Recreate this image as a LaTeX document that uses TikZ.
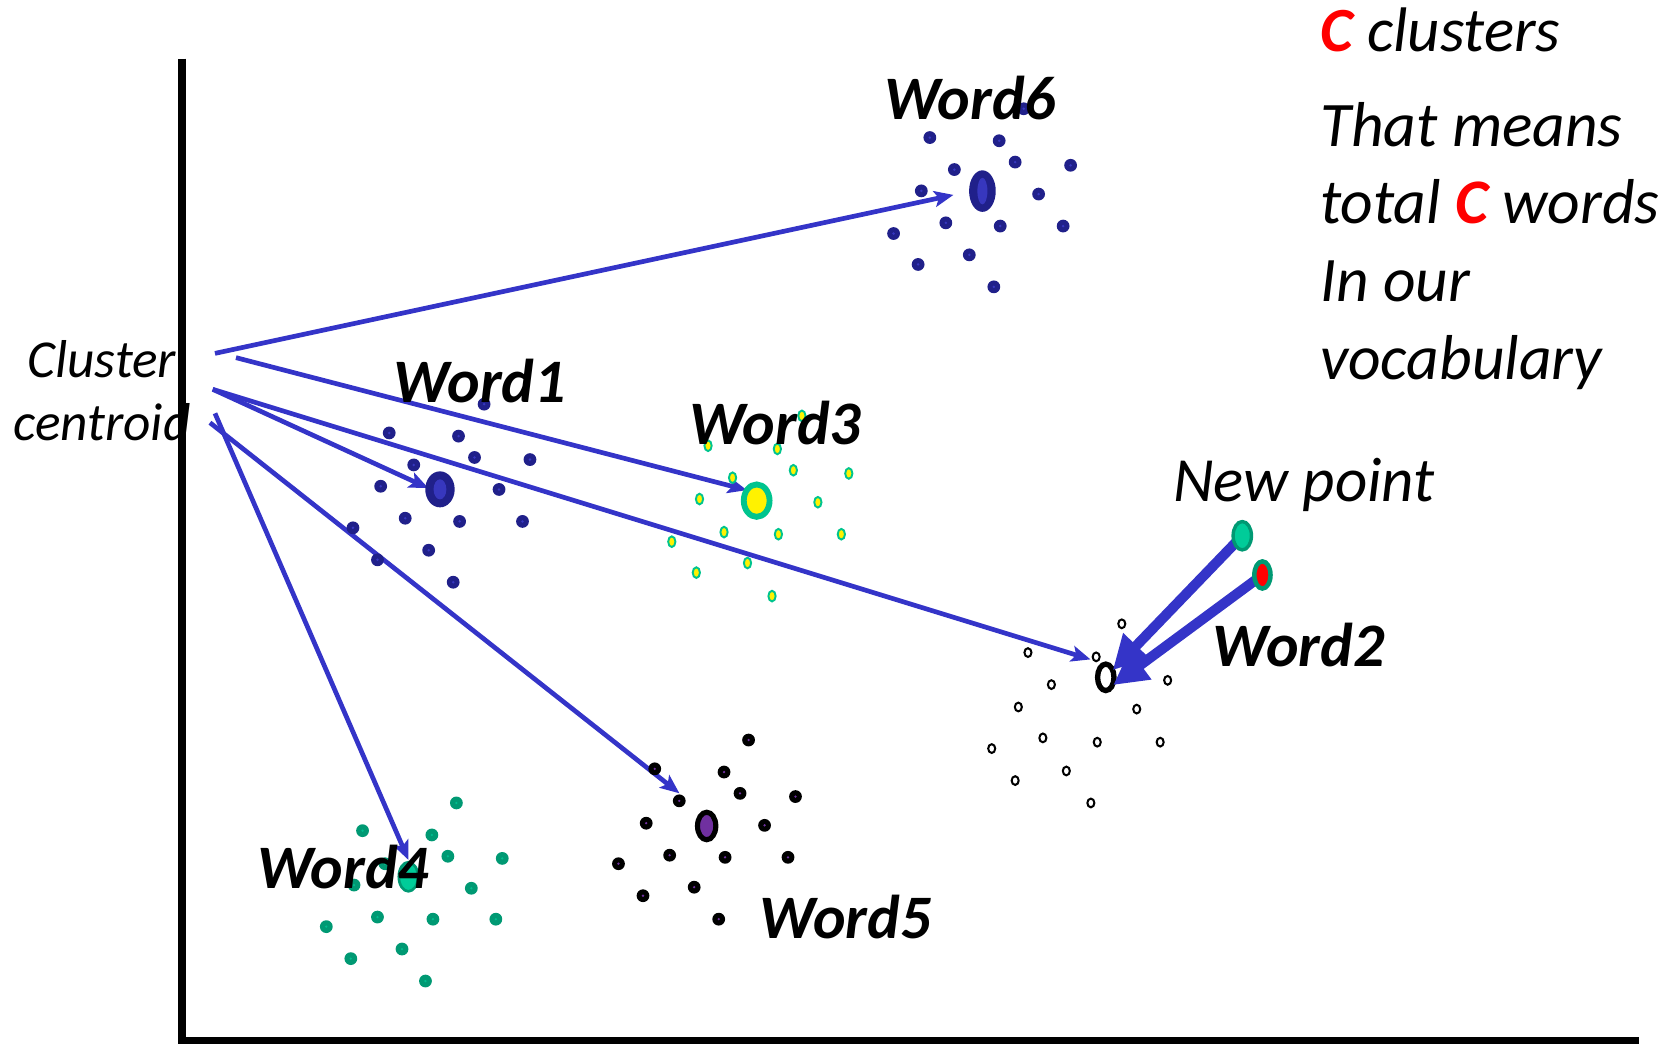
\documentclass[tikz,border=0pt]{standalone}
\usepackage{fontspec}
\setmainfont{Carlito}
\usetikzlibrary{arrows.meta, shapes.geometric, backgrounds}
\definecolor{ArrowBlue}{HTML}{3434C8}
\definecolor{NavyDot}{HTML}{20208A}
\definecolor{NavyLight}{HTML}{3737BE}
\definecolor{SeaGreen}{HTML}{009973}
\definecolor{MintGreen}{HTML}{00CC99}
\definecolor{TealRing}{HTML}{00C48E}
\definecolor{PlumPurple}{HTML}{7030A0}
\definecolor{BrightRed}{HTML}{FF0000}

\tikzset{
  centroid/.style={ellipse, inner sep=0pt, outer sep=0pt},
  wordlabel/.style={anchor=base west, inner sep=0pt, font=\fontsize{58}{68}\selectfont\bfseries\itshape},
  link/.style={line width=4.4pt, color=ArrowBlue, -{Stealth[length=18pt, width=15pt, inset=4pt]}},
  bigarrow/.style={line width=9.5pt, color=ArrowBlue, -{Triangle[length=32pt, width=32pt]}},
}

\begin{document}
\begin{tikzpicture}[x=1pt, y=-1pt]
\useasboundingbox (0,0) rectangle (1568,979);

% start points of the links
\coordinate (s6) at (201.6,331.4);
\coordinate (s3) at (221.3,335.4);
\coordinate (s1) at (199.5,365.1);
\coordinate (s4) at (201.6,387.6);
\coordinate (s5) at (196.9,396.4);

% Word6 cluster
\foreach \x/\y in {872/129, 937/132, 952/152, 1004/155, 895/159, 864/179, 974/182, 887/209, 938/212, 997/212, 838/219, 909/239, 861/248, 932/269, 960/102}{
  \fill[NavyDot] (\x,\y) circle (6pt);
  \fill[NavyLight] (\x,\y) circle (1.3pt);
}
\node[centroid, fill=NavyDot, minimum width=25pt, minimum height=39pt] (w6) at (921.3,179.2) {};
\fill[NavyLight] (w6) ellipse (4.7pt and 12.5pt);

% Word1 cluster
\foreach \x/\y in {454/379, 365/406, 430/409, 445/429, 497/431, 388/436, 357/456, 468/459, 380/486, 431/489, 490/489, 331/495, 402/516, 354/525, 425/546}{
  \fill[NavyDot] (\x,\y) circle (6pt);
  \fill[NavyLight] (\x,\y) circle (1.3pt);
}
\node[centroid, fill=NavyDot, minimum width=27.6pt, minimum height=33.8pt] (w1) at (412.6,458.9) {};
\fill[NavyLight] (w1) ellipse (6pt and 9.4pt);

% Word3 cluster
\foreach \x/\y in {752/390, 664/418, 729/421, 744/441, 796/444, 687/448, 656/468, 767/471, 679/499, 730/501, 789/501, 630/508, 701/528, 653/537, 724/559}
  \filldraw[fill=yellow, draw=TealRing, line width=1.8pt] (\x,\y) ellipse (3.4pt and 5pt);
\node[centroid, fill=yellow, draw=TealRing, line width=5.5pt, minimum width=24.2pt, minimum height=30.4pt] (w3) at (709.6,469.5) {};

% Word2 cluster
\foreach \x/\y in {1052/585, 964/612, 1028/616, 986/642, 1095/638, 955/663, 1066/665, 978/692, 1029/696, 1088/696, 930/702, 1000/723, 952/732, 1023/753}
  \filldraw[fill=white, draw=black, line width=1.9pt] (\x,\y) ellipse (3.3pt and 4.1pt);
\node[centroid, fill=white, draw=black, line width=5pt, minimum width=15.4pt, minimum height=24.8pt] (w2) at (1037,635.2) {};

% Word5 cluster
\foreach \x/\y in {702/694, 614/721, 679/724, 694/744, 746/747, 637/751, 606/772, 717/774, 628/802, 680/804, 739/804, 580/810, 651/832, 603/840, 674/862}{
  \fill[black] (\x,\y) circle (6pt);
  \fill[PlumPurple] (\x,\y) circle (1.2pt);
}
\node[centroid, fill=PlumPurple, draw=black, line width=4.8pt, minimum width=17.2pt, minimum height=25.8pt] (w5) at (662.7,774.6) {};

% Word4 cluster
\foreach \x/\y in {428/753, 340/779, 405/783, 420/803, 471/805, 332/830, 442/833, 354/860, 406/862, 465/862, 306/869, 377/890, 329/899, 399/920, 361/810}{
  \fill[SeaGreen] (\x,\y) circle (6pt);
  \fill[MintGreen!70!SeaGreen] (\x,\y) circle (1.2pt);
}
\node[centroid, fill=MintGreen, draw=SeaGreen, line width=2.5pt, minimum width=18pt, minimum height=27.4pt] (w4) at (383,822.2) {};

% axes and links from the cluster centroid label
\begin{scope}[on background layer]
  \draw[line width=7.5pt] (170.5,55) -- (170.5,976) -- (1537,976);
  \draw[link, shorten >=15pt] (s6) -- (w6.182);
  \draw[link] (s3) -- (w3.133);
  \draw[link, shorten >=-3pt] (s1) -- (w1.170);
  \draw[link, shorten >=15pt] (s1) -- (w2.north);
  \draw[link, shorten >=2.3pt] (s4) -- (w4.86);
  \draw[link, shorten >=29.5pt] (s5) -- (w5.101);
\end{scope}

% new points
\node[centroid, minimum width=17.2pt, minimum height=26.6pt] (np1) at (1165,502.4) {};
\node[centroid, minimum width=15.2pt, minimum height=25.5pt] (np2) at (1183.9,539.2) {};
\draw[bigarrow] (np1.center) -- (w2.46);
\draw[bigarrow, shorten >=1.4pt] (np2.center) -- (w2.306);
\filldraw[fill=MintGreen, draw=SeaGreen, line width=3.2pt] (np1) ellipse (8.6pt and 13.3pt);
\filldraw[fill=BrightRed, draw=SeaGreen, line width=4.2pt] (np2) ellipse (7.6pt and 12.75pt);

% labels
\node[anchor=base, inner sep=0pt, align=center, font=\fontsize{50}{59}\selectfont\itshape] (cc) at (95.5,413) {Cluster\\centroid};
\node[wordlabel] (l6) at (829,112.5) {Word6};
\node[wordlabel] (l1) at (369,377) {Word1};
\node[wordlabel] (l3) at (646,417) {Word3};
\node[wordlabel] (l2) at (1137,625) {Word2};
\node[wordlabel] (l4) at (241,833) {Word4};
\node[wordlabel] (l5) at (712,880) {Word5};
\node[anchor=base west, inner sep=0pt, font=\fontsize{59}{70}\selectfont\itshape] (newpt) at (1100,470.5) {New point};
\node[anchor=base west, inner sep=0pt, font=\fontsize{59}{70}\selectfont\itshape] (ccount) at (1238,48.5) {\textcolor{BrightRed}{\bfseries C} clusters};
\node[anchor=base west, inner sep=0pt, align=left, font=\fontsize{59.5}{73}\selectfont\itshape] (vocab) at (1238,356) {That means\\total \textcolor{BrightRed}{\bfseries C} words\\In our\\vocabulary};
\end{tikzpicture}
\end{document}
